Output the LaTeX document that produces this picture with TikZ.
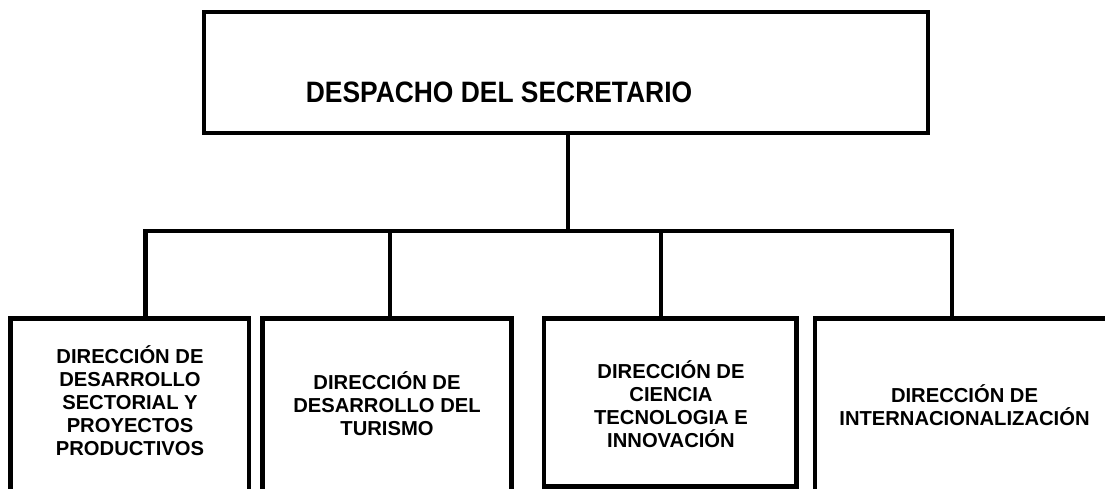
\documentclass[tikz,border=0pt]{standalone}
\usepackage{fontspec}
\setmainfont{Liberation Sans}
\begin{document}
\begin{tikzpicture}[x=1pt,y=-1pt,
  boxst/.style={draw=black,line width=4.5pt,inner sep=0pt,outer sep=0pt,fill=none},
  conn/.style={draw=black,line width=4.5pt,line join=miter},
  subtext/.style={align=center,inner sep=0pt,font=\fontsize{20.2}{23}\selectfont\bfseries},
  titletext/.style={inner sep=0pt,font=\fontsize{29.5}{34}\selectfont\bfseries}]
\useasboundingbox (0,0) rectangle (1105,489);
\fill[white] (0,0) rectangle (1105,489);
\begin{scope}
\clip (0,0) rectangle (1105,489);
% top box
\node[boxst,minimum width=724pt,minimum height=121pt] (top) at (566,72.5) {};
\node[titletext] (ttop) at (499,92) {\scalebox{0.895}[1]{DESPACHO DEL SECRETARIO}};
% bottom boxes
\node[boxst,minimum width=238.5pt,minimum height=174.5pt] (b1) at (129.75,405.75) {};
\node[boxst,minimum width=249pt,minimum height=174.5pt] (b2) at (387.2,405.75) {};
\node[boxst,minimum width=252.7pt,minimum height=168.2pt] (b3) at (670.3,402.6) {};
\node[boxst,minimum width=300pt,minimum height=174.5pt] (b4) at (965,405.75) {};
% texts
\node[subtext] (t1) at (130,401) {DIRECCIÓN DE\\DESARROLLO\\SECTORIAL Y\\PROYECTOS\\PRODUCTIVOS};
\node[subtext] (t2) at (387,403.2) {DIRECCIÓN DE\\DESARROLLO DEL\\TURISMO};
\node[subtext] (t3) at (671,404) {DIRECCIÓN DE\\CIENCIA\\TECNOLOGIA E\\INNOVACIÓN};
\node[subtext] (t4) at (964.5,405.2) {DIRECCIÓN DE\\INTERNACIONALIZACIÓN};
% connectors
\coordinate (bus) at (568,231);
\coordinate (d1) at (145.5,231);
\coordinate (d2) at (390,231);
\coordinate (d3) at (661,231);
\coordinate (d4) at (952,231);
\draw[conn] (top.south -| bus) -- (bus);
\draw[conn] (d1 |- b1.north) -- (d1) -- (d4) -- (d4 |- b4.north);
\draw[conn] (d2) -- (d2 |- b2.north);
\draw[conn] (d3) -- (d3 |- b3.north);
\end{scope}
\end{tikzpicture}
\end{document}
